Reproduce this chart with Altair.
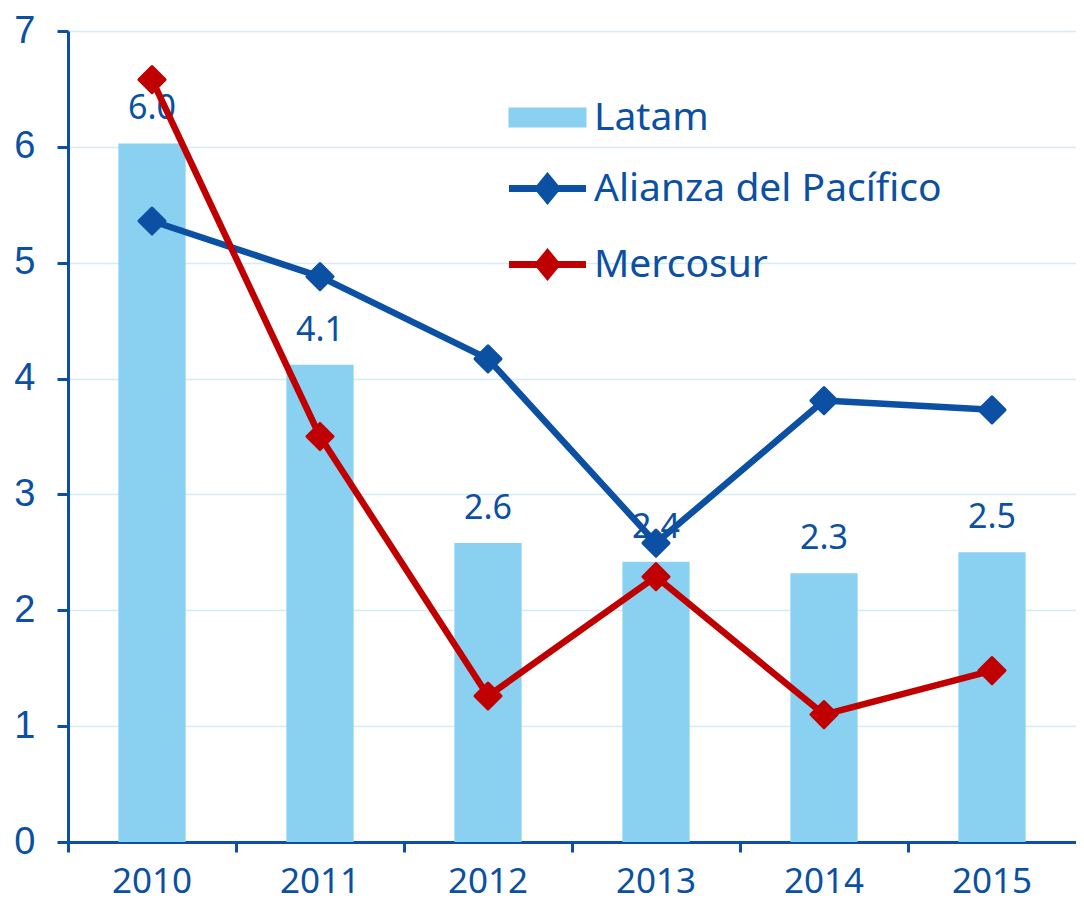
import altair as alt
import pandas as pd

years = ["2010", "2011", "2012", "2013", "2014", "2015"]
latam = [6.03, 4.12, 2.58, 2.42, 2.32, 2.50]
alianza = [5.36, 4.88, 4.17, 2.58, 3.81, 3.73]
mercosur = [6.58, 3.50, 1.26, 2.29, 1.10, 1.48]
series_names = ["Latam", "Alianza del Pacífico", "Mercosur"]
series_colors = ["#89D0F1", "#0B50A2", "#C00000"]

AXIS = "#0B50A2"
FONT = "Noto Sans"

rows = []
for name, vals in zip(series_names, [latam, alianza, mercosur]):
    for y, v in zip(years, vals):
        rows.append({"year": y, "series": name, "value": v})
df = pd.DataFrame(rows)

RECT = "M-0.725,-0.325L2.825,-0.325L2.825,0.325L-0.725,0.325Z"
LINEDIA = "M-0.875,0L0.6,0L1.05,-0.55L1.5,0L2.975,0L1.5,0L1.05,0.55L0.6,0Z"

legend = alt.Legend(
    title=None,
    orient="none",
    legendX=435,
    legendY=63,
    padding=0,
    symbolSize=1600,
    symbolType=alt.ExprRef(expr=f"datum.value == 'Latam' ? '{RECT}' : '{LINEDIA}'"),
    symbolFillColor=alt.ExprRef(expr="scale('color', datum.value)"),
    symbolStrokeColor=alt.ExprRef(expr="scale('color', datum.value)"),
    symbolStrokeWidth=7,
    symbolOpacity=1,
    labelFont=FONT,
    labelFontSize=39,
    labelColor=AXIS,
    labelOffset=44,
    labelLimit=600,
    rowPadding=25,
)

color = alt.Color(
    "series:N",
    scale=alt.Scale(domain=series_names, range=series_colors),
    legend=legend,
)

x = alt.X(
    "year:N",
    sort=years,
    title=None,
    scale=alt.Scale(paddingInner=0, paddingOuter=0),
    axis=alt.Axis(
        labelAngle=0,
        bandPosition=0,
        domainColor=AXIS,
        domainWidth=3,
        tickColor=AXIS,
        tickWidth=3,
        tickSize=10,
        labelFont=FONT,
        labelFontSize=35,
        labelColor=AXIS,
        labelPadding=12,
        grid=False,
    ),
)

y = alt.Y(
    "value:Q",
    title=None,
    scale=alt.Scale(domain=[0, 7], nice=False),
    axis=alt.Axis(
        values=[0, 1, 2, 3, 4, 5, 6, 7],
        domainColor=AXIS,
        domainWidth=3,
        tickColor=AXIS,
        tickWidth=3,
        tickSize=11,
        labelFont="Liberation Sans",
        labelFontSize=38,
        labelColor=AXIS,
        labelPadding=22,
        grid=True,
        gridColor="#D2ECF8",
        gridWidth=1.5,
    ),
)

base = alt.Chart(df).encode(x=x, y=y)

bars = base.transform_filter(alt.datum.series == "Latam").mark_bar(
    width=alt.RelativeBandSize(0.4)
).encode(color=color)

labels = base.transform_filter(alt.datum.series == "Latam").mark_text(
    font=FONT, fontSize=34, color=AXIS, baseline="alphabetic", dy=-24
).encode(text=alt.Text("value:Q", format=".1f"))

lines = base.transform_filter(alt.datum.series != "Latam").mark_line(
    strokeWidth=6.5, strokeJoin="round"
).encode(color=color, detail="series:N")

points = base.transform_filter(alt.datum.series != "Latam").mark_point(
    shape="diamond", filled=True, size=680, strokeWidth=3, strokeJoin="round", opacity=1
).encode(
    color=color,
    stroke=alt.Stroke("series:N", scale=alt.Scale(domain=series_names, range=series_colors), legend=None),
)

chart = (
    alt.layer(bars, labels, lines, points)
    .properties(
        width=1008,
        height=811,
        autosize=alt.AutoSizeParams(type="none"),
        padding={"left": 60, "top": 23, "right": 0, "bottom": 61},
        background="white",
    )
    .configure_view(stroke=None)
)

chart.save("out.html", embed_options={"renderer": "svg", "actions": False})
